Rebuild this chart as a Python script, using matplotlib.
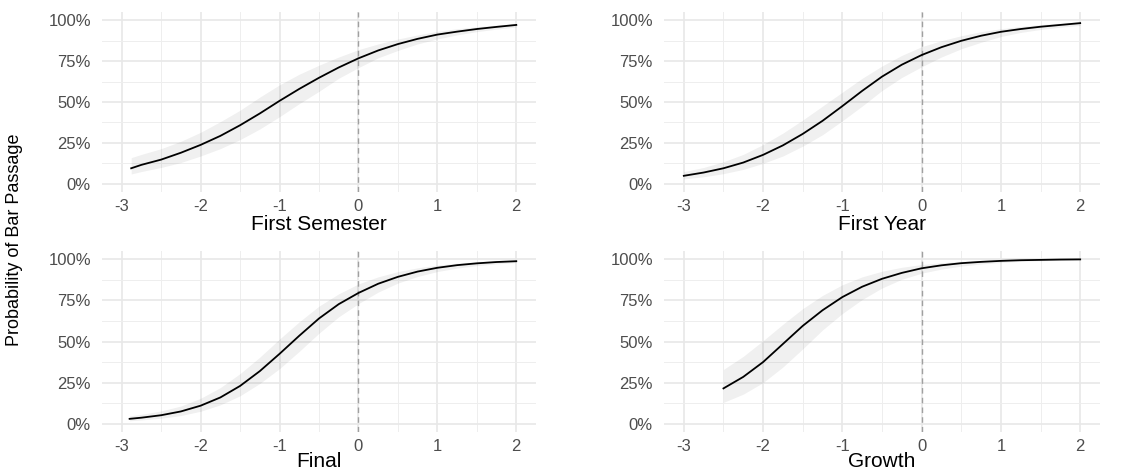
import matplotlib
matplotlib.use("Agg")
import matplotlib.pyplot as plt
import numpy as np

plt.rcParams["font.family"] = ["Liberation Sans", "DejaVu Sans"]
plt.rcParams["axes.unicode_minus"] = False

# predicted probability of bar passage with ribbon bounds, per predictor
x_sem = [-2.88, -2.75, -2.5, -2.25, -2, -1.75, -1.5, -1.25, -1, -0.75, -0.5,
         -0.25, 0, 0.25, 0.5, 0.75, 1, 1.25, 1.5, 1.75, 2]
p_sem = [0.095, 0.116, 0.148, 0.19, 0.238, 0.293, 0.358, 0.43, 0.507, 0.58, 0.648,
         0.711, 0.767, 0.815, 0.854, 0.886, 0.912, 0.93, 0.946, 0.959, 0.971]
lo_sem = [0.06, 0.075, 0.10, 0.13, 0.17, 0.215, 0.27, 0.335, 0.41, 0.49, 0.565,
          0.645, 0.71, 0.77, 0.815, 0.855, 0.885, 0.91, 0.93, 0.945, 0.958]
hi_sem = [0.16, 0.18, 0.215, 0.26, 0.315, 0.38, 0.45, 0.53, 0.605, 0.67, 0.725,
          0.775, 0.82, 0.855, 0.885, 0.91, 0.932, 0.948, 0.96, 0.97, 0.98]

x_yr = [-3, -2.75, -2.5, -2.25, -2, -1.75, -1.5, -1.25, -1, -0.75, -0.5,
        -0.25, 0, 0.25, 0.5, 0.75, 1, 1.25, 1.5, 1.75, 2]
p_yr = [0.049, 0.069, 0.095, 0.13, 0.177, 0.235, 0.305, 0.385, 0.475, 0.568, 0.655,
        0.728, 0.787, 0.835, 0.874, 0.905, 0.929, 0.946, 0.96, 0.971, 0.982]
lo_yr = [0.03, 0.043, 0.062, 0.088, 0.125, 0.17, 0.23, 0.30, 0.385, 0.475, 0.57,
         0.65, 0.715, 0.775, 0.825, 0.865, 0.9, 0.925, 0.943, 0.957, 0.968]
hi_yr = [0.075, 0.10, 0.135, 0.18, 0.24, 0.31, 0.39, 0.475, 0.56, 0.645, 0.72,
         0.785, 0.838, 0.875, 0.905, 0.93, 0.948, 0.962, 0.973, 0.982, 0.99]

x_fin = [-2.9, -2.75, -2.5, -2.25, -2, -1.75, -1.5, -1.25, -1, -0.75, -0.5,
         -0.25, 0, 0.25, 0.5, 0.75, 1, 1.25, 1.5, 1.75, 2]
p_fin = [0.03, 0.037, 0.052, 0.075, 0.11, 0.16, 0.23, 0.32, 0.425, 0.535, 0.64,
         0.727, 0.795, 0.851, 0.893, 0.925, 0.948, 0.964, 0.975, 0.983, 0.988]
lo_fin = [0.018, 0.023, 0.034, 0.05, 0.076, 0.115, 0.17, 0.245, 0.335, 0.44, 0.55,
          0.65, 0.73, 0.8, 0.855, 0.895, 0.925, 0.946, 0.961, 0.972, 0.98]
hi_fin = [0.048, 0.058, 0.078, 0.108, 0.155, 0.22, 0.305, 0.405, 0.515, 0.62, 0.715,
          0.79, 0.85, 0.893, 0.925, 0.948, 0.964, 0.976, 0.984, 0.99, 0.994]

x_gr = [-2.5, -2.25, -2, -1.75, -1.5, -1.25, -1, -0.75, -0.5, -0.25,
        0, 0.25, 0.5, 0.75, 1, 1.25, 1.5, 1.75, 2]
p_gr = [0.215, 0.285, 0.375, 0.485, 0.595, 0.69, 0.77, 0.833, 0.881, 0.917,
        0.945, 0.963, 0.976, 0.984, 0.99, 0.994, 0.996, 0.998, 0.999]
lo_gr = [0.13, 0.18, 0.25, 0.345, 0.455, 0.57, 0.67, 0.755, 0.825, 0.878,
         0.915, 0.94, 0.958, 0.971, 0.98, 0.987, 0.991, 0.994, 0.996]
hi_gr = [0.33, 0.41, 0.505, 0.605, 0.70, 0.78, 0.845, 0.893, 0.927, 0.951,
         0.968, 0.979, 0.987, 0.992, 0.995, 0.997, 0.998, 0.999, 1.0]

titles = ["First Semester", "First Year", "Final", "Growth"]
x_ticks = [-3, -2, -1, 0, 1, 2]
y_ticks = [0, 0.25, 0.5, 0.75, 1.0]
y_labels = ["0%", "25%", "50%", "75%", "100%"]

panels = [(x_sem, p_sem, lo_sem, hi_sem), (x_yr, p_yr, lo_yr, hi_yr),
          (x_fin, p_fin, lo_fin, hi_fin), (x_gr, p_gr, lo_gr, hi_gr)]

W, H = 1137, 471
fig = plt.figure(figsize=(W / 100, H / 100), dpi=100)

# panel boxes in pixels: left, top, right, bottom
boxes = [(102, 12, 536, 192), (664, 12, 1100, 192),
         (102, 251, 536, 432), (664, 251, 1100, 432)]

for i, ((l, t, r, b), title, (xs, ps, lo, hi)) in enumerate(zip(boxes, titles, panels)):
    ax = fig.add_axes([l / W, 1 - b / H, (r - l) / W, (b - t) / H])
    ax.set_xlim(-3.25, 2.25)
    ax.set_ylim(-0.05, 1.05)
    ax.set_xticks(x_ticks)
    ax.set_xticks(np.arange(-3, 2.01, 0.5), minor=True)
    ax.set_yticks(y_ticks)
    ax.set_yticks(np.arange(0, 1.01, 0.125), minor=True)
    ax.set_yticklabels(y_labels)
    ax.grid(which="major", color="#E8E8E8", lw=1.2)
    ax.grid(which="minor", color="#EEEEEE", lw=0.7)
    ax.set_axisbelow(True)
    for s in ax.spines.values():
        s.set_visible(False)
    ax.tick_params(which="both", length=0, labelsize=12, colors="#4D4D4D", pad=5)
    ax.tick_params(axis="y", pad=8)

    ax.fill_between(xs, lo, hi, color="black", alpha=0.06, lw=0)
    ax.axvline(0, color="#A0A0A0", lw=1.0, ls=(0, (4, 3)))
    ax.plot(xs, ps, color="black", lw=1.3)
    ax.set_xlabel(title, fontsize=15, labelpad=1 if i < 2 else -1.5, color="black")

fig.text(15 / W, 1 - 240 / H, "Probability of Bar Passage", rotation=90,
         ha="center", va="center", fontsize=13)

fig.savefig("out.png", dpi=100)
